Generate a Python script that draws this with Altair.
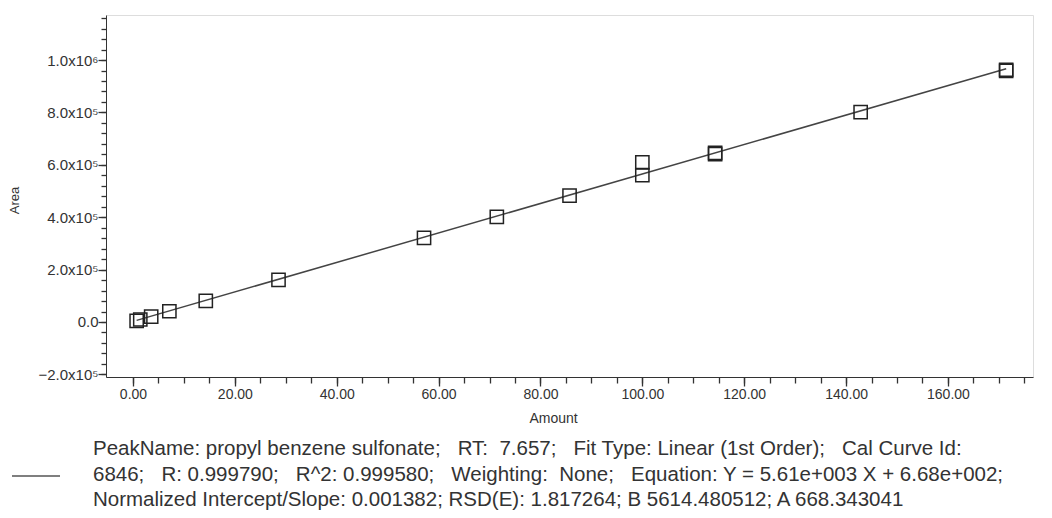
import altair as alt
import pandas as pd

# ---- data ----
amount = [0.714, 1.43, 3.57, 7.14, 14.29, 28.57, 57.14, 71.43, 85.71,
          100.0, 100.0, 114.29, 114.29, 142.86, 171.43, 171.43]
area = [4200, 9500, 20500, 41000, 80500, 161000, 321000, 401500, 482000,
        561000, 609000, 641000, 646000, 801000, 959000, 963000]

x_major = [0, 20, 40, 60, 80, 100, 120, 140, 160]
x_minor = list(range(0, 176, 5))
y_major = [-200000, 0, 200000, 400000, 600000, 800000, 1000000]
y_minor = list(range(-200000, 1160001, 40000))

NB = "\u00a0"
legend_lines = [
    f"PeakName: propyl benzene sulfonate;{NB*3}RT:{NB*2}7.657;{NB*3}Fit Type: Linear (1st Order);{NB*3}Cal Curve Id:",
    f"6846;{NB*3}R: 0.999790;{NB*3}R^2: 0.999580;{NB*3}Weighting:{NB*2}None;{NB*3}Equation: Y = 5.61e+003 X + 6.68e+002;",
    "Normalized Intercept/Slope: 0.001382; RSD(E): 1.817264; B 5614.480512; A 668.343041",
]

df = pd.DataFrame({"Amount": amount, "Area": area})

FONT = "Liberation Sans"
INK = "#333333"

xscale = alt.Scale(domain=[-5.3, 176.7], nice=False, zero=False)
yscale = alt.Scale(domain=[-210000, 1172000], nice=False, zero=False)

y_label_expr = (
    "datum.value == 0 ? '0.0' : "
    "datum.value == 1000000 ? '1.0x10\u2076' : "
    "format(datum.value/100000, '.1f') + 'x10\u2075'"
)

x_major_axis = alt.Axis(
    values=x_major, format=".2f", tickSize=9, labelPadding=1,
    labelFontSize=14, labelFont=FONT, labelColor=INK,
    tickColor=INK, domainColor=INK, tickWidth=1.3,
    labelFlush=False, labelOverlap=False, grid=False, orient="bottom",
    title="Amount", titleFont=FONT, titleFontSize=14, titleFontWeight="normal",
    titleColor=INK, titleX=447, titleY=41, titleBaseline="middle",
)
x_minor_axis = alt.Axis(
    values=x_minor, tickSize=6, labels=False, domain=False, grid=False,
    tickColor=INK, tickWidth=1.3, orient="bottom", title=None,
)
y_major_axis = alt.Axis(
    values=y_major, labelExpr=y_label_expr, tickSize=8, labelPadding=0,
    labelFontSize=15, labelFont=FONT, labelColor=INK,
    tickColor=INK, domainColor=INK, tickWidth=1.3,
    labelFlush=False, labelOverlap=False, grid=False, orient="left",
    title="Area", titleFont=FONT, titleFontSize=13, titleFontWeight="normal",
    titleColor=INK, titleX=-92, titleY=185, titleBaseline="middle", titleAngle=270,
)
y_minor_axis = alt.Axis(
    values=y_minor, tickSize=5, labels=False, domain=False, grid=False,
    tickColor=INK, tickWidth=1.3, orient="left", title=None,
)

base = alt.Chart(df)

points = base.mark_point(shape="square", filled=False, size=175,
                         color="#222222", strokeWidth=1.5, opacity=1).encode(
    x=alt.X("Amount:Q", scale=xscale, axis=x_major_axis),
    y=alt.Y("Area:Q", scale=yscale, axis=y_major_axis),
)

fit = base.transform_regression("Amount", "Area", method="linear").mark_line(
    color="#444444", strokeWidth=1.5
).encode(
    x=alt.X("Amount:Q", scale=xscale, axis=x_minor_axis),
    y=alt.Y("Area:Q", scale=yscale, axis=y_minor_axis),
)

text_df = pd.DataFrame({"t": ["\n".join(legend_lines)]})
legend_text = alt.Chart(text_df).mark_text(
    align="left", baseline="middle", font=FONT, fontSize=20.5, color=INK,
    lineBreak="\n", lineHeight=25.5,
).encode(
    text="t:N",
    x=alt.value(-13),
    y=alt.value(434),
)

legend_line = alt.Chart(text_df).mark_rule(color="#555555", strokeWidth=1.5).encode(
    x=alt.value(-94), x2=alt.value(-46), y=alt.value(461),
)

chart = alt.layer(fit, points, legend_line, legend_text).resolve_axis(
    x="independent", y="independent"
).properties(
    width=927, height=362,
    autosize=alt.AutoSizeParams(type="none"),
    padding={"left": 98, "top": 7, "right": 10, "bottom": 134},
).configure_view(
    stroke=INK, strokeWidth=1.5
).configure(background="white")

chart.save("out.html", embed_options={"renderer": "svg", "actions": False})
